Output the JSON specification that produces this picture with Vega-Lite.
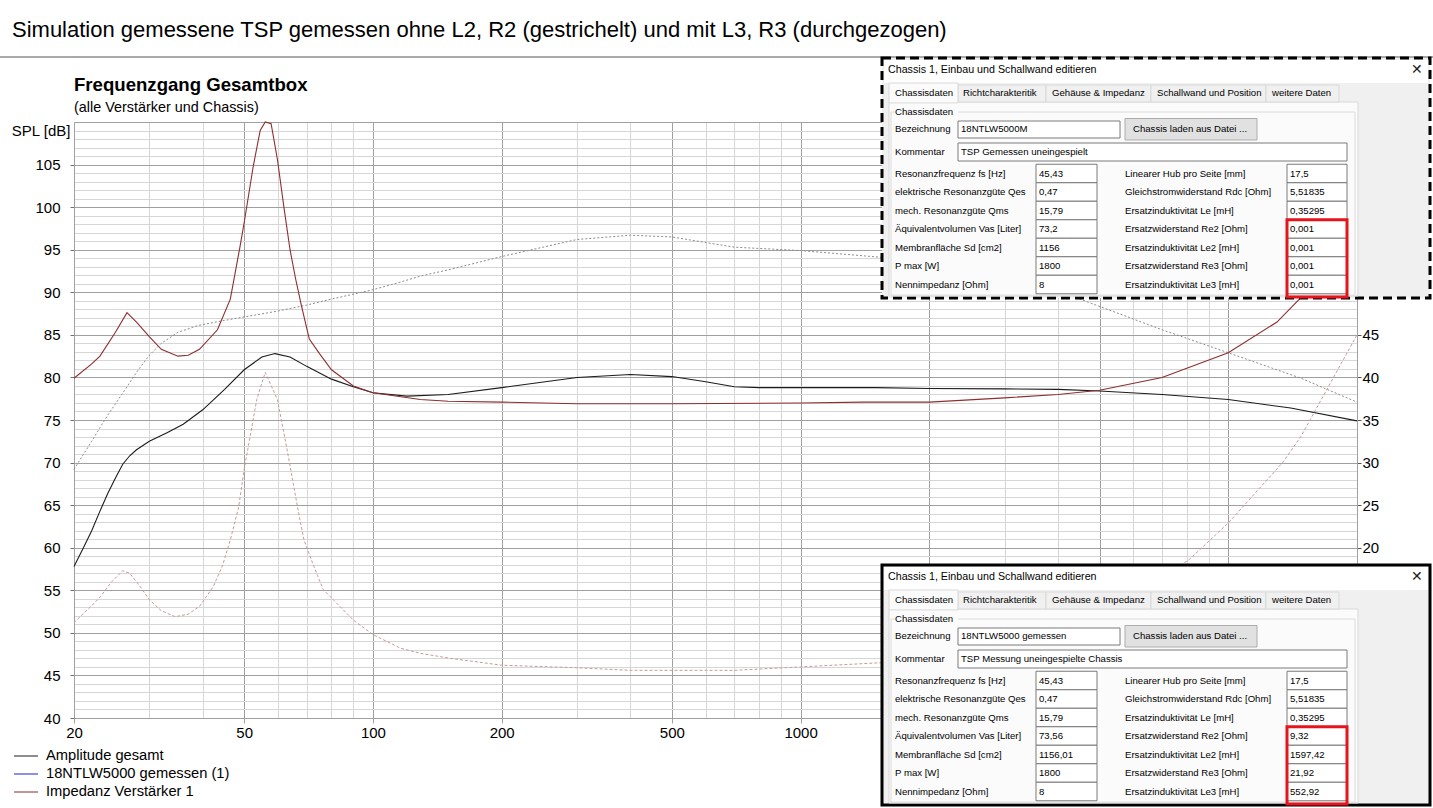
{
  "$schema": "https://vega.github.io/schema/vega-lite/v6.json",
  "width": 1283,
  "height": 596,
  "autosize": {"type": "none"},
  "padding": {"left": 74, "top": 122, "right": 76, "bottom": 90},
  "background": "#ffffff",
  "config": {"view": {"stroke": null}, "font": "Liberation Sans"},
  "title": {"text": "Simulation gemessene TSP gemessen ohne L2, R2 (gestrichelt) und mit L3, R3 (durchgezogen)", "anchor": "start", "frame": "group", "dx": -62, "offset": 15, "font": "Liberation Sans", "fontSize": 22, "fontWeight": "normal", "color": "#000000"},
  "datasets": {
    "spl": [
      {"f": 20, "dB": 57.8, "kurve": "Amplitude gesamt", "variante": "mit L3, R3"},
      {"f": 21, "dB": 59.9, "kurve": "Amplitude gesamt", "variante": "mit L3, R3"},
      {"f": 22, "dB": 62.0, "kurve": "Amplitude gesamt", "variante": "mit L3, R3"},
      {"f": 23, "dB": 64.3, "kurve": "Amplitude gesamt", "variante": "mit L3, R3"},
      {"f": 24, "dB": 66.4, "kurve": "Amplitude gesamt", "variante": "mit L3, R3"},
      {"f": 25, "dB": 68.2, "kurve": "Amplitude gesamt", "variante": "mit L3, R3"},
      {"f": 26, "dB": 69.8, "kurve": "Amplitude gesamt", "variante": "mit L3, R3"},
      {"f": 27, "dB": 70.8, "kurve": "Amplitude gesamt", "variante": "mit L3, R3"},
      {"f": 28, "dB": 71.5, "kurve": "Amplitude gesamt", "variante": "mit L3, R3"},
      {"f": 30, "dB": 72.5, "kurve": "Amplitude gesamt", "variante": "mit L3, R3"},
      {"f": 33, "dB": 73.5, "kurve": "Amplitude gesamt", "variante": "mit L3, R3"},
      {"f": 36, "dB": 74.5, "kurve": "Amplitude gesamt", "variante": "mit L3, R3"},
      {"f": 40, "dB": 76.2, "kurve": "Amplitude gesamt", "variante": "mit L3, R3"},
      {"f": 45, "dB": 78.6, "kurve": "Amplitude gesamt", "variante": "mit L3, R3"},
      {"f": 50, "dB": 80.9, "kurve": "Amplitude gesamt", "variante": "mit L3, R3"},
      {"f": 55, "dB": 82.4, "kurve": "Amplitude gesamt", "variante": "mit L3, R3"},
      {"f": 59, "dB": 82.8, "kurve": "Amplitude gesamt", "variante": "mit L3, R3"},
      {"f": 64, "dB": 82.4, "kurve": "Amplitude gesamt", "variante": "mit L3, R3"},
      {"f": 70, "dB": 81.3, "kurve": "Amplitude gesamt", "variante": "mit L3, R3"},
      {"f": 80, "dB": 79.8, "kurve": "Amplitude gesamt", "variante": "mit L3, R3"},
      {"f": 90, "dB": 78.9, "kurve": "Amplitude gesamt", "variante": "mit L3, R3"},
      {"f": 100, "dB": 78.2, "kurve": "Amplitude gesamt", "variante": "mit L3, R3"},
      {"f": 120, "dB": 77.8, "kurve": "Amplitude gesamt", "variante": "mit L3, R3"},
      {"f": 150, "dB": 78.0, "kurve": "Amplitude gesamt", "variante": "mit L3, R3"},
      {"f": 200, "dB": 78.8, "kurve": "Amplitude gesamt", "variante": "mit L3, R3"},
      {"f": 300, "dB": 80.0, "kurve": "Amplitude gesamt", "variante": "mit L3, R3"},
      {"f": 400, "dB": 80.35, "kurve": "Amplitude gesamt", "variante": "mit L3, R3"},
      {"f": 500, "dB": 80.1, "kurve": "Amplitude gesamt", "variante": "mit L3, R3"},
      {"f": 600, "dB": 79.5, "kurve": "Amplitude gesamt", "variante": "mit L3, R3"},
      {"f": 700, "dB": 78.9, "kurve": "Amplitude gesamt", "variante": "mit L3, R3"},
      {"f": 800, "dB": 78.8, "kurve": "Amplitude gesamt", "variante": "mit L3, R3"},
      {"f": 1000, "dB": 78.8, "kurve": "Amplitude gesamt", "variante": "mit L3, R3"},
      {"f": 1500, "dB": 78.8, "kurve": "Amplitude gesamt", "variante": "mit L3, R3"},
      {"f": 2000, "dB": 78.7, "kurve": "Amplitude gesamt", "variante": "mit L3, R3"},
      {"f": 3000, "dB": 78.65, "kurve": "Amplitude gesamt", "variante": "mit L3, R3"},
      {"f": 4000, "dB": 78.6, "kurve": "Amplitude gesamt", "variante": "mit L3, R3"},
      {"f": 5000, "dB": 78.4, "kurve": "Amplitude gesamt", "variante": "mit L3, R3"},
      {"f": 7000, "dB": 78.0, "kurve": "Amplitude gesamt", "variante": "mit L3, R3"},
      {"f": 10000, "dB": 77.4, "kurve": "Amplitude gesamt", "variante": "mit L3, R3"},
      {"f": 14000, "dB": 76.4, "kurve": "Amplitude gesamt", "variante": "mit L3, R3"},
      {"f": 20000, "dB": 74.9, "kurve": "Amplitude gesamt", "variante": "mit L3, R3"},
      {"f": 20, "dB": 69.2, "kurve": "Amplitude gesamt", "variante": "ohne L2, R2"},
      {"f": 21, "dB": 70.9, "kurve": "Amplitude gesamt", "variante": "ohne L2, R2"},
      {"f": 22, "dB": 72.5, "kurve": "Amplitude gesamt", "variante": "ohne L2, R2"},
      {"f": 23, "dB": 74.1, "kurve": "Amplitude gesamt", "variante": "ohne L2, R2"},
      {"f": 24, "dB": 75.6, "kurve": "Amplitude gesamt", "variante": "ohne L2, R2"},
      {"f": 25, "dB": 76.9, "kurve": "Amplitude gesamt", "variante": "ohne L2, R2"},
      {"f": 26.6, "dB": 78.9, "kurve": "Amplitude gesamt", "variante": "ohne L2, R2"},
      {"f": 28, "dB": 80.6, "kurve": "Amplitude gesamt", "variante": "ohne L2, R2"},
      {"f": 30, "dB": 82.6, "kurve": "Amplitude gesamt", "variante": "ohne L2, R2"},
      {"f": 32, "dB": 84.0, "kurve": "Amplitude gesamt", "variante": "ohne L2, R2"},
      {"f": 35, "dB": 85.3, "kurve": "Amplitude gesamt", "variante": "ohne L2, R2"},
      {"f": 39, "dB": 86.1, "kurve": "Amplitude gesamt", "variante": "ohne L2, R2"},
      {"f": 45, "dB": 86.7, "kurve": "Amplitude gesamt", "variante": "ohne L2, R2"},
      {"f": 50, "dB": 87.1, "kurve": "Amplitude gesamt", "variante": "ohne L2, R2"},
      {"f": 60, "dB": 87.8, "kurve": "Amplitude gesamt", "variante": "ohne L2, R2"},
      {"f": 70, "dB": 88.5, "kurve": "Amplitude gesamt", "variante": "ohne L2, R2"},
      {"f": 80, "dB": 89.2, "kurve": "Amplitude gesamt", "variante": "ohne L2, R2"},
      {"f": 100, "dB": 90.3, "kurve": "Amplitude gesamt", "variante": "ohne L2, R2"},
      {"f": 116, "dB": 91.2, "kurve": "Amplitude gesamt", "variante": "ohne L2, R2"},
      {"f": 129, "dB": 91.9, "kurve": "Amplitude gesamt", "variante": "ohne L2, R2"},
      {"f": 152, "dB": 92.7, "kurve": "Amplitude gesamt", "variante": "ohne L2, R2"},
      {"f": 200, "dB": 94.2, "kurve": "Amplitude gesamt", "variante": "ohne L2, R2"},
      {"f": 300, "dB": 96.2, "kurve": "Amplitude gesamt", "variante": "ohne L2, R2"},
      {"f": 400, "dB": 96.7, "kurve": "Amplitude gesamt", "variante": "ohne L2, R2"},
      {"f": 500, "dB": 96.5, "kurve": "Amplitude gesamt", "variante": "ohne L2, R2"},
      {"f": 700, "dB": 95.3, "kurve": "Amplitude gesamt", "variante": "ohne L2, R2"},
      {"f": 1000, "dB": 94.9, "kurve": "Amplitude gesamt", "variante": "ohne L2, R2"},
      {"f": 1550, "dB": 94.1, "kurve": "Amplitude gesamt", "variante": "ohne L2, R2"},
      {"f": 2000, "dB": 93.3, "kurve": "Amplitude gesamt", "variante": "ohne L2, R2"},
      {"f": 3000, "dB": 91.6, "kurve": "Amplitude gesamt", "variante": "ohne L2, R2"},
      {"f": 4500, "dB": 89.2, "kurve": "Amplitude gesamt", "variante": "ohne L2, R2"},
      {"f": 7000, "dB": 85.6, "kurve": "Amplitude gesamt", "variante": "ohne L2, R2"},
      {"f": 10000, "dB": 82.9, "kurve": "Amplitude gesamt", "variante": "ohne L2, R2"},
      {"f": 14800, "dB": 79.9, "kurve": "Amplitude gesamt", "variante": "ohne L2, R2"},
      {"f": 20000, "dB": 77.1, "kurve": "Amplitude gesamt", "variante": "ohne L2, R2"}
    ],
    "impedanz": [
      {"f": 20, "ohm": 39.9, "kurve": "Impedanz Verstärker 1", "variante": "mit L3, R3"},
      {"f": 22, "ohm": 41.6, "kurve": "Impedanz Verstärker 1", "variante": "mit L3, R3"},
      {"f": 23, "ohm": 42.5, "kurve": "Impedanz Verstärker 1", "variante": "mit L3, R3"},
      {"f": 25, "ohm": 45.3, "kurve": "Impedanz Verstärker 1", "variante": "mit L3, R3"},
      {"f": 26.6, "ohm": 47.6, "kurve": "Impedanz Verstärker 1", "variante": "mit L3, R3"},
      {"f": 28, "ohm": 46.5, "kurve": "Impedanz Verstärker 1", "variante": "mit L3, R3"},
      {"f": 30, "ohm": 44.8, "kurve": "Impedanz Verstärker 1", "variante": "mit L3, R3"},
      {"f": 32, "ohm": 43.3, "kurve": "Impedanz Verstärker 1", "variante": "mit L3, R3"},
      {"f": 35, "ohm": 42.5, "kurve": "Impedanz Verstärker 1", "variante": "mit L3, R3"},
      {"f": 37, "ohm": 42.6, "kurve": "Impedanz Verstärker 1", "variante": "mit L3, R3"},
      {"f": 39.3, "ohm": 43.3, "kurve": "Impedanz Verstärker 1", "variante": "mit L3, R3"},
      {"f": 43.3, "ohm": 45.6, "kurve": "Impedanz Verstärker 1", "variante": "mit L3, R3"},
      {"f": 46.4, "ohm": 49.2, "kurve": "Impedanz Verstärker 1", "variante": "mit L3, R3"},
      {"f": 48.9, "ohm": 55.4, "kurve": "Impedanz Verstärker 1", "variante": "mit L3, R3"},
      {"f": 50, "ohm": 58.2, "kurve": "Impedanz Verstärker 1", "variante": "mit L3, R3"},
      {"f": 52.5, "ohm": 64.8, "kurve": "Impedanz Verstärker 1", "variante": "mit L3, R3"},
      {"f": 54.5, "ohm": 69.0, "kurve": "Impedanz Verstärker 1", "variante": "mit L3, R3"},
      {"f": 56, "ohm": 70.0, "kurve": "Impedanz Verstärker 1", "variante": "mit L3, R3"},
      {"f": 57.8, "ohm": 69.8, "kurve": "Impedanz Verstärker 1", "variante": "mit L3, R3"},
      {"f": 59.8, "ohm": 65.6, "kurve": "Impedanz Verstärker 1", "variante": "mit L3, R3"},
      {"f": 62, "ohm": 59.8, "kurve": "Impedanz Verstärker 1", "variante": "mit L3, R3"},
      {"f": 64, "ohm": 55.0, "kurve": "Impedanz Verstärker 1", "variante": "mit L3, R3"},
      {"f": 66, "ohm": 51.5, "kurve": "Impedanz Verstärker 1", "variante": "mit L3, R3"},
      {"f": 68, "ohm": 48.5, "kurve": "Impedanz Verstärker 1", "variante": "mit L3, R3"},
      {"f": 71, "ohm": 44.5, "kurve": "Impedanz Verstärker 1", "variante": "mit L3, R3"},
      {"f": 75, "ohm": 42.8, "kurve": "Impedanz Verstärker 1", "variante": "mit L3, R3"},
      {"f": 80, "ohm": 40.9, "kurve": "Impedanz Verstärker 1", "variante": "mit L3, R3"},
      {"f": 90, "ohm": 39.0, "kurve": "Impedanz Verstärker 1", "variante": "mit L3, R3"},
      {"f": 100, "ohm": 38.2, "kurve": "Impedanz Verstärker 1", "variante": "mit L3, R3"},
      {"f": 129, "ohm": 37.4, "kurve": "Impedanz Verstärker 1", "variante": "mit L3, R3"},
      {"f": 150, "ohm": 37.2, "kurve": "Impedanz Verstärker 1", "variante": "mit L3, R3"},
      {"f": 200, "ohm": 37.1, "kurve": "Impedanz Verstärker 1", "variante": "mit L3, R3"},
      {"f": 300, "ohm": 36.9, "kurve": "Impedanz Verstärker 1", "variante": "mit L3, R3"},
      {"f": 500, "ohm": 36.9, "kurve": "Impedanz Verstärker 1", "variante": "mit L3, R3"},
      {"f": 1000, "ohm": 37.0, "kurve": "Impedanz Verstärker 1", "variante": "mit L3, R3"},
      {"f": 1400, "ohm": 37.1, "kurve": "Impedanz Verstärker 1", "variante": "mit L3, R3"},
      {"f": 2000, "ohm": 37.1, "kurve": "Impedanz Verstärker 1", "variante": "mit L3, R3"},
      {"f": 3000, "ohm": 37.6, "kurve": "Impedanz Verstärker 1", "variante": "mit L3, R3"},
      {"f": 4000, "ohm": 38.0, "kurve": "Impedanz Verstärker 1", "variante": "mit L3, R3"},
      {"f": 5000, "ohm": 38.5, "kurve": "Impedanz Verstärker 1", "variante": "mit L3, R3"},
      {"f": 7000, "ohm": 40.0, "kurve": "Impedanz Verstärker 1", "variante": "mit L3, R3"},
      {"f": 10000, "ohm": 42.9, "kurve": "Impedanz Verstärker 1", "variante": "mit L3, R3"},
      {"f": 13000, "ohm": 46.5, "kurve": "Impedanz Verstärker 1", "variante": "mit L3, R3"},
      {"f": 14800, "ohm": 49.4, "kurve": "Impedanz Verstärker 1", "variante": "mit L3, R3"},
      {"f": 17000, "ohm": 53.0, "kurve": "Impedanz Verstärker 1", "variante": "mit L3, R3"},
      {"f": 20000, "ohm": 57.0, "kurve": "Impedanz Verstärker 1", "variante": "mit L3, R3"},
      {"f": 20, "ohm": 11.2, "kurve": "Impedanz Verstärker 1", "variante": "ohne L2, R2"},
      {"f": 22, "ohm": 13.2, "kurve": "Impedanz Verstärker 1", "variante": "ohne L2, R2"},
      {"f": 23, "ohm": 14.2, "kurve": "Impedanz Verstärker 1", "variante": "ohne L2, R2"},
      {"f": 24.5, "ohm": 16.0, "kurve": "Impedanz Verstärker 1", "variante": "ohne L2, R2"},
      {"f": 26, "ohm": 17.3, "kurve": "Impedanz Verstärker 1", "variante": "ohne L2, R2"},
      {"f": 27, "ohm": 17.0, "kurve": "Impedanz Verstärker 1", "variante": "ohne L2, R2"},
      {"f": 28.5, "ohm": 15.5, "kurve": "Impedanz Verstärker 1", "variante": "ohne L2, R2"},
      {"f": 30, "ohm": 13.9, "kurve": "Impedanz Verstärker 1", "variante": "ohne L2, R2"},
      {"f": 32, "ohm": 12.6, "kurve": "Impedanz Verstärker 1", "variante": "ohne L2, R2"},
      {"f": 34.5, "ohm": 11.9, "kurve": "Impedanz Verstärker 1", "variante": "ohne L2, R2"},
      {"f": 37, "ohm": 12.2, "kurve": "Impedanz Verstärker 1", "variante": "ohne L2, R2"},
      {"f": 39.3, "ohm": 13.1, "kurve": "Impedanz Verstärker 1", "variante": "ohne L2, R2"},
      {"f": 42.3, "ohm": 15.4, "kurve": "Impedanz Verstärker 1", "variante": "ohne L2, R2"},
      {"f": 44.5, "ohm": 17.9, "kurve": "Impedanz Verstärker 1", "variante": "ohne L2, R2"},
      {"f": 46.4, "ohm": 20.9, "kurve": "Impedanz Verstärker 1", "variante": "ohne L2, R2"},
      {"f": 48.5, "ohm": 24.7, "kurve": "Impedanz Verstärker 1", "variante": "ohne L2, R2"},
      {"f": 50, "ohm": 29.2, "kurve": "Impedanz Verstärker 1", "variante": "ohne L2, R2"},
      {"f": 53.5, "ohm": 37.4, "kurve": "Impedanz Verstärker 1", "variante": "ohne L2, R2"},
      {"f": 56, "ohm": 40.6, "kurve": "Impedanz Verstärker 1", "variante": "ohne L2, R2"},
      {"f": 59.8, "ohm": 37.4, "kurve": "Impedanz Verstärker 1", "variante": "ohne L2, R2"},
      {"f": 63, "ohm": 31.5, "kurve": "Impedanz Verstärker 1", "variante": "ohne L2, R2"},
      {"f": 67.3, "ohm": 23.6, "kurve": "Impedanz Verstärker 1", "variante": "ohne L2, R2"},
      {"f": 69, "ohm": 20.9, "kurve": "Impedanz Verstärker 1", "variante": "ohne L2, R2"},
      {"f": 72.5, "ohm": 18.0, "kurve": "Impedanz Verstärker 1", "variante": "ohne L2, R2"},
      {"f": 76.5, "ohm": 15.1, "kurve": "Impedanz Verstärker 1", "variante": "ohne L2, R2"},
      {"f": 90, "ohm": 11.5, "kurve": "Impedanz Verstärker 1", "variante": "ohne L2, R2"},
      {"f": 100, "ohm": 9.8, "kurve": "Impedanz Verstärker 1", "variante": "ohne L2, R2"},
      {"f": 116, "ohm": 8.2, "kurve": "Impedanz Verstärker 1", "variante": "ohne L2, R2"},
      {"f": 129, "ohm": 7.6, "kurve": "Impedanz Verstärker 1", "variante": "ohne L2, R2"},
      {"f": 152, "ohm": 7.0, "kurve": "Impedanz Verstärker 1", "variante": "ohne L2, R2"},
      {"f": 200, "ohm": 6.2, "kurve": "Impedanz Verstärker 1", "variante": "ohne L2, R2"},
      {"f": 300, "ohm": 5.9, "kurve": "Impedanz Verstärker 1", "variante": "ohne L2, R2"},
      {"f": 400, "ohm": 5.6, "kurve": "Impedanz Verstärker 1", "variante": "ohne L2, R2"},
      {"f": 700, "ohm": 5.6, "kurve": "Impedanz Verstärker 1", "variante": "ohne L2, R2"},
      {"f": 1000, "ohm": 6.0, "kurve": "Impedanz Verstärker 1", "variante": "ohne L2, R2"},
      {"f": 1550, "ohm": 6.5, "kurve": "Impedanz Verstärker 1", "variante": "ohne L2, R2"},
      {"f": 2000, "ohm": 7.2, "kurve": "Impedanz Verstärker 1", "variante": "ohne L2, R2"},
      {"f": 3000, "ohm": 8.8, "kurve": "Impedanz Verstärker 1", "variante": "ohne L2, R2"},
      {"f": 4000, "ohm": 10.7, "kurve": "Impedanz Verstärker 1", "variante": "ohne L2, R2"},
      {"f": 5000, "ohm": 12.5, "kurve": "Impedanz Verstärker 1", "variante": "ohne L2, R2"},
      {"f": 6000, "ohm": 14.5, "kurve": "Impedanz Verstärker 1", "variante": "ohne L2, R2"},
      {"f": 7000, "ohm": 16.5, "kurve": "Impedanz Verstärker 1", "variante": "ohne L2, R2"},
      {"f": 8100, "ohm": 18.6, "kurve": "Impedanz Verstärker 1", "variante": "ohne L2, R2"},
      {"f": 10000, "ohm": 22.9, "kurve": "Impedanz Verstärker 1", "variante": "ohne L2, R2"},
      {"f": 13400, "ohm": 30.0, "kurve": "Impedanz Verstärker 1", "variante": "ohne L2, R2"},
      {"f": 14800, "ohm": 33.1, "kurve": "Impedanz Verstärker 1", "variante": "ohne L2, R2"},
      {"f": 20000, "ohm": 45.0, "kurve": "Impedanz Verstärker 1", "variante": "ohne L2, R2"}
    ],
    "seite": [
      {"art": "Trennlinie", "sx": 0, "sx2": 33, "sy": 0},
      {"art": "Diagrammtitel", "text": "Frequenzgang Gesamtbox", "sx": 1, "sy": 6},
      {"art": "Untertitel", "text": "(alle Verstärker und Chassis)", "sx": 1, "sy": 10}
    ],
    "flaechen": [
      {"dialog": "oben", "teil": "Rahmen", "sx0": 2, "sx1": 32, "sy0": 1, "sy1": 29},
      {"dialog": "unten", "teil": "Rahmen", "sx0": 2, "sx1": 32, "sy0": 1, "sy1": 29},
      {"dialog": "beide", "teil": "Titelleiste", "sx0": 3, "sx1": 31, "sy0": 2, "sy1": 4},
      {"dialog": "beide", "teil": "Registerseite", "sx0": 5, "sx1": 29, "sy0": 8, "sy1": 28},
      {"dialog": "beide", "teil": "Reiter", "sx0": 8, "sx1": 13, "sy0": 5, "sy1": 8},
      {"dialog": "beide", "teil": "Reiter", "sx0": 13, "sx1": 19, "sy0": 5, "sy1": 8},
      {"dialog": "beide", "teil": "Reiter", "sx0": 19, "sx1": 22, "sy0": 5, "sy1": 8},
      {"dialog": "beide", "teil": "Reiter", "sx0": 22, "sx1": 26, "sy0": 5, "sy1": 8},
      {"dialog": "beide", "teil": "Reiter aktiv", "sx0": 5, "sx1": 8, "sy0": 4, "sy1": 8.3},
      {"dialog": "beide", "teil": "Gruppe", "sx0": 6, "sx1": 28, "sy0": 11, "sy1": 27.6},
      {"dialog": "beide", "teil": "Gruppenbeschriftung", "sx0": 7, "sx1": 8, "sy0": 9, "sy1": 12},
      {"dialog": "beide", "teil": "Eingabefeld", "sx0": 8, "sx1": 16, "sy0": 13, "sy1": 15},
      {"dialog": "beide", "teil": "Eingabefeld", "sx0": 8, "sx1": 27, "sy0": 17, "sy1": 19},
      {"dialog": "beide", "teil": "Eingabefeld", "sx0": 11, "sx1": 15, "sy0": 20, "sy1": 21},
      {"dialog": "beide", "teil": "Eingabefeld", "sx0": 11, "sx1": 15, "sy0": 21, "sy1": 22},
      {"dialog": "beide", "teil": "Eingabefeld", "sx0": 11, "sx1": 15, "sy0": 22, "sy1": 23},
      {"dialog": "beide", "teil": "Eingabefeld", "sx0": 11, "sx1": 15, "sy0": 23, "sy1": 24},
      {"dialog": "beide", "teil": "Eingabefeld", "sx0": 11, "sx1": 15, "sy0": 24, "sy1": 25},
      {"dialog": "beide", "teil": "Eingabefeld", "sx0": 11, "sx1": 15, "sy0": 25, "sy1": 26},
      {"dialog": "beide", "teil": "Eingabefeld", "sx0": 11, "sx1": 15, "sy0": 26, "sy1": 27},
      {"dialog": "beide", "teil": "Eingabefeld", "sx0": 24, "sx1": 27, "sy0": 20, "sy1": 21},
      {"dialog": "beide", "teil": "Eingabefeld", "sx0": 24, "sx1": 27, "sy0": 21, "sy1": 22},
      {"dialog": "beide", "teil": "Eingabefeld", "sx0": 24, "sx1": 27, "sy0": 22, "sy1": 23},
      {"dialog": "beide", "teil": "Eingabefeld", "sx0": 24, "sx1": 27, "sy0": 23, "sy1": 24},
      {"dialog": "beide", "teil": "Eingabefeld", "sx0": 24, "sx1": 27, "sy0": 24, "sy1": 25},
      {"dialog": "beide", "teil": "Eingabefeld", "sx0": 24, "sx1": 27, "sy0": 25, "sy1": 26},
      {"dialog": "beide", "teil": "Eingabefeld", "sx0": 24, "sx1": 27, "sy0": 26, "sy1": 27},
      {"dialog": "beide", "teil": "Schaltfläche", "sx0": 17, "sx1": 21, "sy0": 12, "sy1": 16},
      {"dialog": "beide", "teil": "Markierung", "sx0": 24, "sx1": 27, "sy0": 23, "sy1": 28.5}
    ],
    "texte": [
      {"dialog": "beide", "art": "Titel", "text": "Chassis 1, Einbau und Schallwand editieren", "sx": 4, "sy": 3},
      {"dialog": "beide", "art": "Schließen", "text": "✕", "sx": 30, "sy": 3},
      {"dialog": "beide", "art": "Feld", "text": "Chassisdaten", "sx": 7, "sy": 7},
      {"dialog": "beide", "art": "Feld", "text": "Richtcharakteritik", "sx": 10, "sy": 7},
      {"dialog": "beide", "art": "Feld", "text": "Gehäuse & Impedanz", "sx": 14, "sy": 7},
      {"dialog": "beide", "art": "Feld", "text": "Schallwand und Position", "sx": 20, "sy": 7},
      {"dialog": "beide", "art": "Feld", "text": "weitere Daten", "sx": 23, "sy": 7},
      {"dialog": "beide", "art": "Feld", "text": "Chassisdaten", "sx": 7, "sy": 11},
      {"dialog": "beide", "art": "Feld", "text": "Bezeichnung", "sx": 7, "sy": 14},
      {"dialog": "beide", "art": "Feld", "text": "Chassis laden aus Datei ...", "sx": 18, "sy": 14},
      {"dialog": "beide", "art": "Feld", "text": "Kommentar", "sx": 7, "sy": 18},
      {"dialog": "beide", "art": "Feld", "text": "Resonanzfrequenz fs [Hz]", "sx": 7, "sy": 20.5},
      {"dialog": "beide", "art": "Feld", "text": "elektrische Resonanzgüte Qes", "sx": 7, "sy": 21.5},
      {"dialog": "beide", "art": "Feld", "text": "mech. Resonanzgüte Qms", "sx": 7, "sy": 22.5},
      {"dialog": "beide", "art": "Feld", "text": "Äquivalentvolumen Vas [Liter]", "sx": 7, "sy": 23.5},
      {"dialog": "beide", "art": "Feld", "text": "Membranfläche Sd [cm2]", "sx": 7, "sy": 24.5},
      {"dialog": "beide", "art": "Feld", "text": "P max  [W]", "sx": 7, "sy": 25.5},
      {"dialog": "beide", "art": "Feld", "text": "Nennimpedanz  [Ohm]", "sx": 7, "sy": 26.5},
      {"dialog": "beide", "art": "Feld", "text": "Linearer Hub pro Seite [mm]", "sx": 17, "sy": 20.5},
      {"dialog": "beide", "art": "Feld", "text": "Gleichstromwiderstand Rdc [Ohm]", "sx": 17, "sy": 21.5},
      {"dialog": "beide", "art": "Feld", "text": "Ersatzinduktivität Le [mH]", "sx": 17, "sy": 22.5},
      {"dialog": "beide", "art": "Feld", "text": "Ersatzwiderstand Re2 [Ohm]", "sx": 17, "sy": 23.5},
      {"dialog": "beide", "art": "Feld", "text": "Ersatzinduktivität Le2 [mH]", "sx": 17, "sy": 24.5},
      {"dialog": "beide", "art": "Feld", "text": "Ersatzwiderstand Re3 [Ohm]", "sx": 17, "sy": 25.5},
      {"dialog": "beide", "art": "Feld", "text": "Ersatzinduktivität Le3 [mH]", "sx": 17, "sy": 26.5},
      {"dialog": "oben", "art": "Feld", "text": "18NTLW5000M", "sx": 9, "sy": 14},
      {"dialog": "oben", "art": "Feld", "text": "TSP Gemessen uneingespielt", "sx": 9, "sy": 18},
      {"dialog": "oben", "art": "Feld", "text": "45,43", "sx": 12, "sy": 20.5},
      {"dialog": "oben", "art": "Feld", "text": "0,47", "sx": 12, "sy": 21.5},
      {"dialog": "oben", "art": "Feld", "text": "15,79", "sx": 12, "sy": 22.5},
      {"dialog": "oben", "art": "Feld", "text": "73,2", "sx": 12, "sy": 23.5},
      {"dialog": "oben", "art": "Feld", "text": "1156", "sx": 12, "sy": 24.5},
      {"dialog": "oben", "art": "Feld", "text": "1800", "sx": 12, "sy": 25.5},
      {"dialog": "oben", "art": "Feld", "text": "8", "sx": 12, "sy": 26.5},
      {"dialog": "oben", "art": "Feld", "text": "17,5", "sx": 25, "sy": 20.5},
      {"dialog": "oben", "art": "Feld", "text": "5,51835", "sx": 25, "sy": 21.5},
      {"dialog": "oben", "art": "Feld", "text": "0,35295", "sx": 25, "sy": 22.5},
      {"dialog": "oben", "art": "Feld", "text": "0,001", "sx": 25, "sy": 23.5},
      {"dialog": "oben", "art": "Feld", "text": "0,001", "sx": 25, "sy": 24.5},
      {"dialog": "oben", "art": "Feld", "text": "0,001", "sx": 25, "sy": 25.5},
      {"dialog": "oben", "art": "Feld", "text": "0,001", "sx": 25, "sy": 26.5},
      {"dialog": "unten", "art": "Feld", "text": "18NTLW5000 gemessen", "sx": 9, "sy": 14},
      {"dialog": "unten", "art": "Feld", "text": "TSP Messung uneingespielte Chassis", "sx": 9, "sy": 18},
      {"dialog": "unten", "art": "Feld", "text": "45,43", "sx": 12, "sy": 20.5},
      {"dialog": "unten", "art": "Feld", "text": "0,47", "sx": 12, "sy": 21.5},
      {"dialog": "unten", "art": "Feld", "text": "15,79", "sx": 12, "sy": 22.5},
      {"dialog": "unten", "art": "Feld", "text": "73,56", "sx": 12, "sy": 23.5},
      {"dialog": "unten", "art": "Feld", "text": "1156,01", "sx": 12, "sy": 24.5},
      {"dialog": "unten", "art": "Feld", "text": "1800", "sx": 12, "sy": 25.5},
      {"dialog": "unten", "art": "Feld", "text": "8", "sx": 12, "sy": 26.5},
      {"dialog": "unten", "art": "Feld", "text": "17,5", "sx": 25, "sy": 20.5},
      {"dialog": "unten", "art": "Feld", "text": "5,51835", "sx": 25, "sy": 21.5},
      {"dialog": "unten", "art": "Feld", "text": "0,35295", "sx": 25, "sy": 22.5},
      {"dialog": "unten", "art": "Feld", "text": "9,32", "sx": 25, "sy": 23.5},
      {"dialog": "unten", "art": "Feld", "text": "1597,42", "sx": 25, "sy": 24.5},
      {"dialog": "unten", "art": "Feld", "text": "21,92", "sx": 25, "sy": 25.5},
      {"dialog": "unten", "art": "Feld", "text": "552,92", "sx": 25, "sy": 26.5}
    ]
  },
  "layer": [
    {
      "encoding": {
        "x": {
          "field": "f", "type": "quantitative",
          "scale": {"type": "log", "domain": [20, 20000], "nice": false},
          "axis": {
            "values": [20, 30, 40, 50, 60, 70, 80, 90, 100, 200, 300, 400, 500, 600, 700, 800, 900, 1000, 2000, 3000, 4000, 5000, 6000, 7000, 8000, 9000, 10000, 20000],
            "grid": true,
            "gridColor": {"condition": {"test": "indexof([20, 50, 100, 200, 500, 1000, 2000, 5000, 10000, 20000], datum.value) >= 0", "value": "#a0a0a0"}, "value": "#d6d6d6"},
            "gridWidth": 1,
            "tickColor": {"condition": {"test": "indexof([20, 50, 100, 200, 500, 1000], datum.value) >= 0", "value": "#a0a0a0"}, "value": "transparent"},
            "tickSize": 5,
            "labelExpr": "indexof([20, 50, 100, 200, 500, 1000], datum.value) >= 0 ? '' + datum.value : ''",
            "labelFont": "Liberation Sans", "labelFontSize": 15, "labelColor": "#000000", "labelPadding": 2,
            "labelFlush": false, "labelOverlap": false,
            "domainColor": "#a0a0a0",
            "title": null
          }
        }
      },
      "layer": [
        {
          "data": {"name": "spl"},
          "encoding": {
            "y": {
              "field": "dB", "type": "quantitative",
              "scale": {"domain": [40, 110], "nice": false, "zero": false},
              "axis": {
                "values": [40, 41, 42, 43, 44, 45, 46, 47, 48, 49, 50, 51, 52, 53, 54, 55, 56, 57, 58, 59, 60, 61, 62, 63, 64, 65, 66, 67, 68, 69, 70, 71, 72, 73, 74, 75, 76, 77, 78, 79, 80, 81, 82, 83, 84, 85, 86, 87, 88, 89, 90, 91, 92, 93, 94, 95, 96, 97, 98, 99, 100, 101, 102, 103, 104, 105, 106, 107, 108, 109, 110],
                "grid": true,
                "gridColor": {"condition": {"test": "datum.value % 5 === 0", "value": "#a0a0a0"}, "value": "#d6d6d6"},
                "tickColor": {"condition": {"test": "datum.value % 5 === 0 && datum.value < 110", "value": "#707070"}, "value": "transparent"},
                "tickSize": 4,
                "labelExpr": "datum.value % 5 === 0 && datum.value < 110 ? '' + datum.value : ''",
                "labelFont": "Liberation Sans", "labelFontSize": 15, "labelColor": "#000000", "labelPadding": 10,
                "labelFlush": false, "labelOverlap": false,
                "domainColor": "#a0a0a0",
                "title": "SPL [dB]", "titleAngle": 0, "titleX": -4, "titleY": 8, "titleAlign": "right", "titleBaseline": "middle",
                "titleFont": "Liberation Sans", "titleFontSize": 15, "titleFontWeight": "normal", "titleColor": "#000000"
              }
            }
          },
          "layer": [
            {
              "transform": [{"filter": "datum.variante === 'ohne L2, R2'"}],
              "mark": {"type": "line", "color": "#8c8c8c", "strokeWidth": 1, "strokeDash": [2, 2]},
              "encoding": {}
            },
            {
              "transform": [{"filter": "datum.variante === 'mit L3, R3'"}],
              "mark": {"type": "line", "strokeWidth": 1.1},
              "encoding": {
                "color": {
                  "field": "kurve", "type": "nominal",
                  "scale": {"domain": ["Amplitude gesamt", "18NTLW5000 gemessen (1)", "Impedanz Verstärker 1"], "range": ["#1c1c1c", "#2020d0", "#8e2e2e"]},
                  "legend": {"orient": "none", "legendX": -61, "legendY": 625, "title": null, "symbolType": "stroke", "symbolSize": 576, "symbolStrokeWidth": 1.2, "labelFont": "Liberation Sans", "labelFontSize": 14.7, "labelColor": "#000000", "labelOffset": 7, "labelLimit": 400, "rowPadding": 0, "clipHeight": 18, "padding": 0, "direction": "vertical"}
                }
              }
            }
          ]
        },
        {
          "data": {"name": "impedanz"},
          "encoding": {
            "y": {
              "field": "ohm", "type": "quantitative",
              "scale": {"domain": [0, 70], "nice": false, "zero": false},
              "axis": {
                "orient": "right",
                "values": [20, 25, 30, 35, 40, 45],
                "grid": false, "tickSize": 4, "tickColor": "#555555",
                "labelFont": "Liberation Sans", "labelFontSize": 15, "labelColor": "#000000", "labelPadding": 1,
                "labelFlush": false, "labelOverlap": false,
                "domainColor": "#a0a0a0", "title": null
              }
            }
          },
          "layer": [
            {
              "transform": [{"filter": "datum.variante === 'ohne L2, R2'"}],
              "mark": {"type": "line", "color": "#c99a9a", "strokeWidth": 1, "strokeDash": [3, 2]},
              "encoding": {}
            },
            {
              "transform": [{"filter": "datum.variante === 'mit L3, R3'"}],
              "mark": {"type": "line", "strokeWidth": 1.1},
              "encoding": {
                "color": {
                  "field": "kurve", "type": "nominal",
                  "scale": {"domain": ["Amplitude gesamt", "18NTLW5000 gemessen (1)", "Impedanz Verstärker 1"], "range": ["#1c1c1c", "#2020d0", "#8e2e2e"]}
                }
              }
            }
          ]
        }
      ],
      "resolve": {"scale": {"y": "independent"}}
    },
    {
      "layer": [
        {
          "data": {"name": "seite"},
          "transform": [{"filter": "datum.art === 'Trennlinie'"}],
          "mark": {"type": "rule", "color": "#555555", "strokeWidth": 1},
          "encoding": {
            "x": {"field": "sx", "type": "quantitative", "axis": null, "scale": {"domain": [0, 1, 2, 3, 4, 5, 6, 7, 8, 9, 10, 11, 12, 13, 14, 15, 16, 17, 18, 19, 20, 21, 22, 23, 24, 25, 26, 27, 28, 29, 30, 31, 32, 33], "range": [-74, 0, 808, 810, 814, 815, 817, 821, 884, 887, 889, 962, 965, 972, 978, 1023, 1046, 1051, 1059, 1077, 1083, 1183, 1192, 1198, 1213, 1216, 1265, 1273, 1281, 1284, 1337, 1354, 1356, 1359], "zero": false, "nice": false}},
            "x2": {"field": "sx2"},
            "y": {"field": "sy", "type": "quantitative", "axis": null, "scale": {"domain": [0, 1, 2, 3, 4, 5, 6, 7, 8, 9, 10, 11, 12, 13, 14, 15, 16, 17, 18, 19, 20, 27, 28, 29], "range": [-65, -64, -62, -52, -39, -37, -31, -29, -20, -17, -10.5, -10, -3.5, -1, 7, 16, 18, 21, 29.5, 39, 42.25, 171.75, 174, 176], "zero": false, "nice": false}}
          }
        },
        {
          "data": {"name": "seite"},
          "transform": [{"filter": "datum.art === 'Diagrammtitel'"}],
          "mark": {"type": "text", "align": "left", "baseline": "alphabetic", "font": "Liberation Sans", "fontSize": 18.6, "fontWeight": "bold", "color": "#000000"},
          "encoding": {
            "x": {"field": "sx", "type": "quantitative", "axis": null, "scale": {"domain": [0, 1, 2, 3, 4, 5, 6, 7, 8, 9, 10, 11, 12, 13, 14, 15, 16, 17, 18, 19, 20, 21, 22, 23, 24, 25, 26, 27, 28, 29, 30, 31, 32, 33], "range": [-74, 0, 808, 810, 814, 815, 817, 821, 884, 887, 889, 962, 965, 972, 978, 1023, 1046, 1051, 1059, 1077, 1083, 1183, 1192, 1198, 1213, 1216, 1265, 1273, 1281, 1284, 1337, 1354, 1356, 1359], "zero": false, "nice": false}},
            "y": {"field": "sy", "type": "quantitative", "axis": null, "scale": {"domain": [0, 1, 2, 3, 4, 5, 6, 7, 8, 9, 10, 11, 12, 13, 14, 15, 16, 17, 18, 19, 20, 27, 28, 29], "range": [-65, -64, -62, -52, -39, -37, -31, -29, -20, -17, -10.5, -10, -3.5, -1, 7, 16, 18, 21, 29.5, 39, 42.25, 171.75, 174, 176], "zero": false, "nice": false}},
            "text": {"field": "text"}
          }
        },
        {
          "data": {"name": "seite"},
          "transform": [{"filter": "datum.art === 'Untertitel'"}],
          "mark": {"type": "text", "align": "left", "baseline": "alphabetic", "font": "Liberation Sans", "fontSize": 14.4, "color": "#000000"},
          "encoding": {
            "x": {"field": "sx", "type": "quantitative", "axis": null, "scale": {"domain": [0, 1, 2, 3, 4, 5, 6, 7, 8, 9, 10, 11, 12, 13, 14, 15, 16, 17, 18, 19, 20, 21, 22, 23, 24, 25, 26, 27, 28, 29, 30, 31, 32, 33], "range": [-74, 0, 808, 810, 814, 815, 817, 821, 884, 887, 889, 962, 965, 972, 978, 1023, 1046, 1051, 1059, 1077, 1083, 1183, 1192, 1198, 1213, 1216, 1265, 1273, 1281, 1284, 1337, 1354, 1356, 1359], "zero": false, "nice": false}},
            "y": {"field": "sy", "type": "quantitative", "axis": null, "scale": {"domain": [0, 1, 2, 3, 4, 5, 6, 7, 8, 9, 10, 11, 12, 13, 14, 15, 16, 17, 18, 19, 20, 27, 28, 29], "range": [-65, -64, -62, -52, -39, -37, -31, -29, -20, -17, -10.5, -10, -3.5, -1, 7, 16, 18, 21, 29.5, 39, 42.25, 171.75, 174, 176], "zero": false, "nice": false}},
            "text": {"field": "text"}
          }
        },
        {
          "data": {"name": "flaechen"},
          "transform": [{"filter": "datum.teil === 'Rahmen' && datum.dialog === 'oben'"}],
          "mark": {"type": "rect", "fill": "#f0f0f0", "stroke": "#000000", "strokeWidth": 3, "strokeDash": [9, 5]},
          "encoding": {
            "x": {"field": "sx0", "type": "quantitative", "axis": null, "scale": {"domain": [0, 1, 2, 3, 4, 5, 6, 7, 8, 9, 10, 11, 12, 13, 14, 15, 16, 17, 18, 19, 20, 21, 22, 23, 24, 25, 26, 27, 28, 29, 30, 31, 32, 33], "range": [-74, 0, 808, 810, 814, 815, 817, 821, 884, 887, 889, 962, 965, 972, 978, 1023, 1046, 1051, 1059, 1077, 1083, 1183, 1192, 1198, 1213, 1216, 1265, 1273, 1281, 1284, 1337, 1354, 1356, 1359], "zero": false, "nice": false}},
            "x2": {"field": "sx1"},
            "y": {"field": "sy0", "type": "quantitative", "axis": null, "scale": {"domain": [0, 1, 2, 3, 4, 5, 6, 7, 8, 9, 10, 11, 12, 13, 14, 15, 16, 17, 18, 19, 20, 27, 28, 29], "range": [-65, -64, -62, -52, -39, -37, -31, -29, -20, -17, -10.5, -10, -3.5, -1, 7, 16, 18, 21, 29.5, 39, 42.25, 171.75, 174, 176], "zero": false, "nice": false}},
            "y2": {"field": "sy1"}
          }
        },
        {
          "data": {"name": "flaechen"},
          "transform": [{"filter": "datum.dialog === 'beide' && datum.teil !== 'Markierung'"}],
          "mark": {"type": "rect", "strokeWidth": 1},
          "encoding": {
            "x": {"field": "sx0", "type": "quantitative", "axis": null, "scale": {"domain": [0, 1, 2, 3, 4, 5, 6, 7, 8, 9, 10, 11, 12, 13, 14, 15, 16, 17, 18, 19, 20, 21, 22, 23, 24, 25, 26, 27, 28, 29, 30, 31, 32, 33], "range": [-74, 0, 808, 810, 814, 815, 817, 821, 884, 887, 889, 962, 965, 972, 978, 1023, 1046, 1051, 1059, 1077, 1083, 1183, 1192, 1198, 1213, 1216, 1265, 1273, 1281, 1284, 1337, 1354, 1356, 1359], "zero": false, "nice": false}},
            "x2": {"field": "sx1"},
            "y": {"field": "sy0", "type": "quantitative", "axis": null, "scale": {"domain": [0, 1, 2, 3, 4, 5, 6, 7, 8, 9, 10, 11, 12, 13, 14, 15, 16, 17, 18, 19, 20, 27, 28, 29], "range": [-65, -64, -62, -52, -39, -37, -31, -29, -20, -17, -10.5, -10, -3.5, -1, 7, 16, 18, 21, 29.5, 39, 42.25, 171.75, 174, 176], "zero": false, "nice": false}},
            "y2": {"field": "sy1"},
            "fill": {"field": "teil", "type": "nominal", "legend": null, "scale": {"domain": ["Titelleiste", "Registerseite", "Reiter", "Reiter aktiv", "Gruppe", "Gruppenbeschriftung", "Eingabefeld", "Schaltfläche"], "range": ["#ffffff", "#fbfbfb", "#f0f0f0", "#fbfbfb", "transparent", "#fbfbfb", "#ffffff", "#e1e1e1"]}},
            "stroke": {"field": "teil", "type": "nominal", "legend": null, "scale": {"domain": ["Titelleiste", "Registerseite", "Reiter", "Reiter aktiv", "Gruppe", "Gruppenbeschriftung", "Eingabefeld", "Schaltfläche"], "range": ["transparent", "#d9d9d9", "#d9d9d9", "#d9d9d9", "#dcdcdc", "transparent", "#7a7a7a", "#adadad"]}}
          }
        },
        {
          "data": {"name": "texte"},
          "transform": [{"filter": "(datum.dialog === 'beide' || datum.dialog === 'oben') && datum.art === 'Feld'"}],
          "mark": {"type": "text", "align": "left", "baseline": "middle", "font": "Liberation Sans", "fontSize": 9.6, "color": "#000000"},
          "encoding": {
            "x": {"field": "sx", "type": "quantitative", "axis": null, "scale": {"domain": [0, 1, 2, 3, 4, 5, 6, 7, 8, 9, 10, 11, 12, 13, 14, 15, 16, 17, 18, 19, 20, 21, 22, 23, 24, 25, 26, 27, 28, 29, 30, 31, 32, 33], "range": [-74, 0, 808, 810, 814, 815, 817, 821, 884, 887, 889, 962, 965, 972, 978, 1023, 1046, 1051, 1059, 1077, 1083, 1183, 1192, 1198, 1213, 1216, 1265, 1273, 1281, 1284, 1337, 1354, 1356, 1359], "zero": false, "nice": false}},
            "y": {"field": "sy", "type": "quantitative", "axis": null, "scale": {"domain": [0, 1, 2, 3, 4, 5, 6, 7, 8, 9, 10, 11, 12, 13, 14, 15, 16, 17, 18, 19, 20, 27, 28, 29], "range": [-65, -64, -62, -52, -39, -37, -31, -29, -20, -17, -10.5, -10, -3.5, -1, 7, 16, 18, 21, 29.5, 39, 42.25, 171.75, 174, 176], "zero": false, "nice": false}},
            "text": {"field": "text"}
          }
        },
        {
          "data": {"name": "texte"},
          "transform": [{"filter": "datum.art === 'Titel'"}],
          "mark": {"type": "text", "align": "left", "baseline": "middle", "font": "Liberation Sans", "fontSize": 10.7, "color": "#000000"},
          "encoding": {
            "x": {"field": "sx", "type": "quantitative", "axis": null, "scale": {"domain": [0, 1, 2, 3, 4, 5, 6, 7, 8, 9, 10, 11, 12, 13, 14, 15, 16, 17, 18, 19, 20, 21, 22, 23, 24, 25, 26, 27, 28, 29, 30, 31, 32, 33], "range": [-74, 0, 808, 810, 814, 815, 817, 821, 884, 887, 889, 962, 965, 972, 978, 1023, 1046, 1051, 1059, 1077, 1083, 1183, 1192, 1198, 1213, 1216, 1265, 1273, 1281, 1284, 1337, 1354, 1356, 1359], "zero": false, "nice": false}},
            "y": {"field": "sy", "type": "quantitative", "axis": null, "scale": {"domain": [0, 1, 2, 3, 4, 5, 6, 7, 8, 9, 10, 11, 12, 13, 14, 15, 16, 17, 18, 19, 20, 27, 28, 29], "range": [-65, -64, -62, -52, -39, -37, -31, -29, -20, -17, -10.5, -10, -3.5, -1, 7, 16, 18, 21, 29.5, 39, 42.25, 171.75, 174, 176], "zero": false, "nice": false}},
            "text": {"field": "text"}
          }
        },
        {
          "data": {"name": "texte"},
          "transform": [{"filter": "datum.art === 'Schließen'"}],
          "mark": {"type": "text", "align": "left", "baseline": "middle", "font": "DejaVu Sans", "fontSize": 14, "fontWeight": "normal", "color": "#222222"},
          "encoding": {
            "x": {"field": "sx", "type": "quantitative", "axis": null, "scale": {"domain": [0, 1, 2, 3, 4, 5, 6, 7, 8, 9, 10, 11, 12, 13, 14, 15, 16, 17, 18, 19, 20, 21, 22, 23, 24, 25, 26, 27, 28, 29, 30, 31, 32, 33], "range": [-74, 0, 808, 810, 814, 815, 817, 821, 884, 887, 889, 962, 965, 972, 978, 1023, 1046, 1051, 1059, 1077, 1083, 1183, 1192, 1198, 1213, 1216, 1265, 1273, 1281, 1284, 1337, 1354, 1356, 1359], "zero": false, "nice": false}},
            "y": {"field": "sy", "type": "quantitative", "axis": null, "scale": {"domain": [0, 1, 2, 3, 4, 5, 6, 7, 8, 9, 10, 11, 12, 13, 14, 15, 16, 17, 18, 19, 20, 27, 28, 29], "range": [-65, -64, -62, -52, -39, -37, -31, -29, -20, -17, -10.5, -10, -3.5, -1, 7, 16, 18, 21, 29.5, 39, 42.25, 171.75, 174, 176], "zero": false, "nice": false}},
            "text": {"field": "text"}
          }
        },
        {
          "data": {"name": "flaechen"},
          "transform": [{"filter": "datum.teil === 'Markierung'"}],
          "mark": {"type": "rect", "fill": "transparent", "stroke": "#e8141b", "strokeWidth": 3},
          "encoding": {
            "x": {"field": "sx0", "type": "quantitative", "axis": null, "scale": {"domain": [0, 1, 2, 3, 4, 5, 6, 7, 8, 9, 10, 11, 12, 13, 14, 15, 16, 17, 18, 19, 20, 21, 22, 23, 24, 25, 26, 27, 28, 29, 30, 31, 32, 33], "range": [-74, 0, 808, 810, 814, 815, 817, 821, 884, 887, 889, 962, 965, 972, 978, 1023, 1046, 1051, 1059, 1077, 1083, 1183, 1192, 1198, 1213, 1216, 1265, 1273, 1281, 1284, 1337, 1354, 1356, 1359], "zero": false, "nice": false}},
            "x2": {"field": "sx1"},
            "y": {"field": "sy0", "type": "quantitative", "axis": null, "scale": {"domain": [0, 1, 2, 3, 4, 5, 6, 7, 8, 9, 10, 11, 12, 13, 14, 15, 16, 17, 18, 19, 20, 27, 28, 29], "range": [-65, -64, -62, -52, -39, -37, -31, -29, -20, -17, -10.5, -10, -3.5, -1, 7, 16, 18, 21, 29.5, 39, 42.25, 171.75, 174, 176], "zero": false, "nice": false}},
            "y2": {"field": "sy1"}
          }
        }
      ]
    },
    {
      "layer": [
        {
          "data": {"name": "flaechen"},
          "transform": [{"filter": "datum.teil === 'Rahmen' && datum.dialog === 'unten'"}],
          "mark": {"type": "rect", "fill": "#f0f0f0", "stroke": "#000000", "strokeWidth": 3},
          "encoding": {
            "x": {"field": "sx0", "type": "quantitative", "axis": null, "scale": {"domain": [0, 1, 2, 3, 4, 5, 6, 7, 8, 9, 10, 11, 12, 13, 14, 15, 16, 17, 18, 19, 20, 21, 22, 23, 24, 25, 26, 27, 28, 29, 30, 31, 32, 33], "range": [-74, 0, 808, 810, 814, 815, 817, 821, 884, 887, 889, 962, 965, 972, 978, 1023, 1046, 1051, 1059, 1077, 1083, 1183, 1192, 1198, 1213, 1216, 1265, 1273, 1281, 1284, 1337, 1354, 1356, 1359], "zero": false, "nice": false}},
            "x2": {"field": "sx1"},
            "y": {"field": "sy0", "type": "quantitative", "axis": null, "scale": {"domain": [0, 1, 2, 3, 4, 5, 6, 7, 8, 9, 10, 11, 12, 13, 14, 15, 16, 17, 18, 19, 20, 27, 28, 29], "range": [442, 443, 445, 455, 468, 470, 476, 478, 487, 490, 496.5, 497, 503.5, 506, 514, 523, 525, 528, 536.5, 546, 549.25, 678.75, 681, 683], "zero": false, "nice": false}},
            "y2": {"field": "sy1"}
          }
        },
        {
          "data": {"name": "flaechen"},
          "transform": [{"filter": "datum.dialog === 'beide' && datum.teil !== 'Markierung'"}],
          "mark": {"type": "rect", "strokeWidth": 1},
          "encoding": {
            "x": {"field": "sx0", "type": "quantitative", "axis": null, "scale": {"domain": [0, 1, 2, 3, 4, 5, 6, 7, 8, 9, 10, 11, 12, 13, 14, 15, 16, 17, 18, 19, 20, 21, 22, 23, 24, 25, 26, 27, 28, 29, 30, 31, 32, 33], "range": [-74, 0, 808, 810, 814, 815, 817, 821, 884, 887, 889, 962, 965, 972, 978, 1023, 1046, 1051, 1059, 1077, 1083, 1183, 1192, 1198, 1213, 1216, 1265, 1273, 1281, 1284, 1337, 1354, 1356, 1359], "zero": false, "nice": false}},
            "x2": {"field": "sx1"},
            "y": {"field": "sy0", "type": "quantitative", "axis": null, "scale": {"domain": [0, 1, 2, 3, 4, 5, 6, 7, 8, 9, 10, 11, 12, 13, 14, 15, 16, 17, 18, 19, 20, 27, 28, 29], "range": [442, 443, 445, 455, 468, 470, 476, 478, 487, 490, 496.5, 497, 503.5, 506, 514, 523, 525, 528, 536.5, 546, 549.25, 678.75, 681, 683], "zero": false, "nice": false}},
            "y2": {"field": "sy1"},
            "fill": {"field": "teil", "type": "nominal", "legend": null, "scale": {"domain": ["Titelleiste", "Registerseite", "Reiter", "Reiter aktiv", "Gruppe", "Gruppenbeschriftung", "Eingabefeld", "Schaltfläche"], "range": ["#ffffff", "#fbfbfb", "#f0f0f0", "#fbfbfb", "transparent", "#fbfbfb", "#ffffff", "#e1e1e1"]}},
            "stroke": {"field": "teil", "type": "nominal", "legend": null, "scale": {"domain": ["Titelleiste", "Registerseite", "Reiter", "Reiter aktiv", "Gruppe", "Gruppenbeschriftung", "Eingabefeld", "Schaltfläche"], "range": ["transparent", "#d9d9d9", "#d9d9d9", "#d9d9d9", "#dcdcdc", "transparent", "#7a7a7a", "#adadad"]}}
          }
        },
        {
          "data": {"name": "texte"},
          "transform": [{"filter": "(datum.dialog === 'beide' || datum.dialog === 'unten') && datum.art === 'Feld'"}],
          "mark": {"type": "text", "align": "left", "baseline": "middle", "font": "Liberation Sans", "fontSize": 9.6, "color": "#000000"},
          "encoding": {
            "x": {"field": "sx", "type": "quantitative", "axis": null, "scale": {"domain": [0, 1, 2, 3, 4, 5, 6, 7, 8, 9, 10, 11, 12, 13, 14, 15, 16, 17, 18, 19, 20, 21, 22, 23, 24, 25, 26, 27, 28, 29, 30, 31, 32, 33], "range": [-74, 0, 808, 810, 814, 815, 817, 821, 884, 887, 889, 962, 965, 972, 978, 1023, 1046, 1051, 1059, 1077, 1083, 1183, 1192, 1198, 1213, 1216, 1265, 1273, 1281, 1284, 1337, 1354, 1356, 1359], "zero": false, "nice": false}},
            "y": {"field": "sy", "type": "quantitative", "axis": null, "scale": {"domain": [0, 1, 2, 3, 4, 5, 6, 7, 8, 9, 10, 11, 12, 13, 14, 15, 16, 17, 18, 19, 20, 27, 28, 29], "range": [442, 443, 445, 455, 468, 470, 476, 478, 487, 490, 496.5, 497, 503.5, 506, 514, 523, 525, 528, 536.5, 546, 549.25, 678.75, 681, 683], "zero": false, "nice": false}},
            "text": {"field": "text"}
          }
        },
        {
          "data": {"name": "texte"},
          "transform": [{"filter": "datum.art === 'Titel'"}],
          "mark": {"type": "text", "align": "left", "baseline": "middle", "font": "Liberation Sans", "fontSize": 10.7, "color": "#000000"},
          "encoding": {
            "x": {"field": "sx", "type": "quantitative", "axis": null, "scale": {"domain": [0, 1, 2, 3, 4, 5, 6, 7, 8, 9, 10, 11, 12, 13, 14, 15, 16, 17, 18, 19, 20, 21, 22, 23, 24, 25, 26, 27, 28, 29, 30, 31, 32, 33], "range": [-74, 0, 808, 810, 814, 815, 817, 821, 884, 887, 889, 962, 965, 972, 978, 1023, 1046, 1051, 1059, 1077, 1083, 1183, 1192, 1198, 1213, 1216, 1265, 1273, 1281, 1284, 1337, 1354, 1356, 1359], "zero": false, "nice": false}},
            "y": {"field": "sy", "type": "quantitative", "axis": null, "scale": {"domain": [0, 1, 2, 3, 4, 5, 6, 7, 8, 9, 10, 11, 12, 13, 14, 15, 16, 17, 18, 19, 20, 27, 28, 29], "range": [442, 443, 445, 455, 468, 470, 476, 478, 487, 490, 496.5, 497, 503.5, 506, 514, 523, 525, 528, 536.5, 546, 549.25, 678.75, 681, 683], "zero": false, "nice": false}},
            "text": {"field": "text"}
          }
        },
        {
          "data": {"name": "texte"},
          "transform": [{"filter": "datum.art === 'Schließen'"}],
          "mark": {"type": "text", "align": "left", "baseline": "middle", "font": "DejaVu Sans", "fontSize": 14, "fontWeight": "normal", "color": "#222222"},
          "encoding": {
            "x": {"field": "sx", "type": "quantitative", "axis": null, "scale": {"domain": [0, 1, 2, 3, 4, 5, 6, 7, 8, 9, 10, 11, 12, 13, 14, 15, 16, 17, 18, 19, 20, 21, 22, 23, 24, 25, 26, 27, 28, 29, 30, 31, 32, 33], "range": [-74, 0, 808, 810, 814, 815, 817, 821, 884, 887, 889, 962, 965, 972, 978, 1023, 1046, 1051, 1059, 1077, 1083, 1183, 1192, 1198, 1213, 1216, 1265, 1273, 1281, 1284, 1337, 1354, 1356, 1359], "zero": false, "nice": false}},
            "y": {"field": "sy", "type": "quantitative", "axis": null, "scale": {"domain": [0, 1, 2, 3, 4, 5, 6, 7, 8, 9, 10, 11, 12, 13, 14, 15, 16, 17, 18, 19, 20, 27, 28, 29], "range": [442, 443, 445, 455, 468, 470, 476, 478, 487, 490, 496.5, 497, 503.5, 506, 514, 523, 525, 528, 536.5, 546, 549.25, 678.75, 681, 683], "zero": false, "nice": false}},
            "text": {"field": "text"}
          }
        },
        {
          "data": {"name": "flaechen"},
          "transform": [{"filter": "datum.teil === 'Markierung'"}],
          "mark": {"type": "rect", "fill": "transparent", "stroke": "#e8141b", "strokeWidth": 3},
          "encoding": {
            "x": {"field": "sx0", "type": "quantitative", "axis": null, "scale": {"domain": [0, 1, 2, 3, 4, 5, 6, 7, 8, 9, 10, 11, 12, 13, 14, 15, 16, 17, 18, 19, 20, 21, 22, 23, 24, 25, 26, 27, 28, 29, 30, 31, 32, 33], "range": [-74, 0, 808, 810, 814, 815, 817, 821, 884, 887, 889, 962, 965, 972, 978, 1023, 1046, 1051, 1059, 1077, 1083, 1183, 1192, 1198, 1213, 1216, 1265, 1273, 1281, 1284, 1337, 1354, 1356, 1359], "zero": false, "nice": false}},
            "x2": {"field": "sx1"},
            "y": {"field": "sy0", "type": "quantitative", "axis": null, "scale": {"domain": [0, 1, 2, 3, 4, 5, 6, 7, 8, 9, 10, 11, 12, 13, 14, 15, 16, 17, 18, 19, 20, 27, 28, 29], "range": [442, 443, 445, 455, 468, 470, 476, 478, 487, 490, 496.5, 497, 503.5, 506, 514, 523, 525, 528, 536.5, 546, 549.25, 678.75, 681, 683], "zero": false, "nice": false}},
            "y2": {"field": "sy1"}
          }
        }
      ]
    }
  ],
  "resolve": {"scale": {"x": "independent", "y": "independent"}}
}
